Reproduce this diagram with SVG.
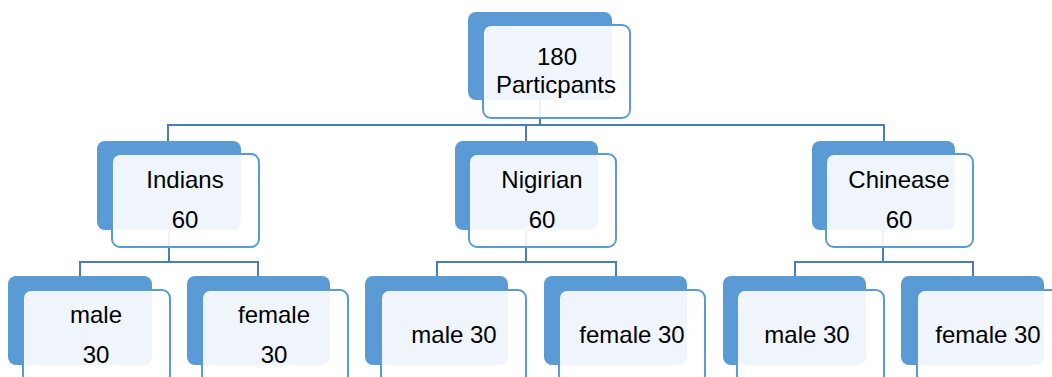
<svg xmlns="http://www.w3.org/2000/svg" width="1052" height="377" viewBox="0 0 1052 377">
<style>
.back{fill:#5B9BD5;}
.front{fill:#FFFFFF;fill-opacity:0.9;stroke:#5B9BD5;stroke-width:2;}
.conn{stroke:#4A7EBB;stroke-width:2;fill:none;}
text{font-family:"Liberation Sans",Arial,sans-serif;font-size:24px;fill:#000;text-anchor:middle;}
</style>
<rect width="1052" height="377" fill="#FFFFFF"/>
<g id="connectors">
<path class="conn" d="M540,60V125M168,125H884M168,124V141M526,124V141M884,124V141"/>
<path class="conn" d="M169,190V262M526,190V262M883,190V262"/>
<path class="conn" d="M79,262H259M80,261V276M258,261V276"/>
<path class="conn" d="M436,262H617M437,261V276M616,261V276"/>
<path class="conn" d="M794,262H974M795,261V276M973,261V276"/>
</g>
<g id="n0">
<rect class="back" x="468" y="12" width="144" height="88" rx="8"/>
<rect class="front" x="483" y="25" width="147" height="93" rx="8"/>
<text x="557" y="65">180</text>
<text x="556" y="93">Particpants</text>
</g>
<g id="n1">
<rect class="back" x="97" y="141" width="144" height="89" rx="8"/>
<rect class="front" x="112" y="154" width="147" height="93" rx="8"/>
<text x="185" y="188">Indians</text>
<text x="185" y="228">60</text>
</g>
<g id="n2">
<rect class="back" x="455" y="141" width="143" height="89" rx="8"/>
<rect class="front" x="469" y="154" width="147" height="93" rx="8"/>
<text x="542" y="188">Nigirian</text>
<text x="542" y="228">60</text>
</g>
<g id="n3">
<rect class="back" x="812" y="141" width="143" height="89" rx="8"/>
<rect class="front" x="826" y="154" width="147" height="93" rx="8"/>
<text x="899" y="188">Chinease</text>
<text x="899" y="228">60</text>
</g>
<g id="n4">
<rect class="back" x="8" y="276" width="144" height="89" rx="8"/>
<rect class="front" x="23" y="290" width="147" height="93" rx="8"/>
<text x="96" y="323">male</text>
<text x="96" y="363">30</text>
</g>
<g id="n5">
<rect class="back" x="187" y="276" width="143" height="89" rx="8"/>
<rect class="front" x="202" y="290" width="146" height="93" rx="8"/>
<text x="274" y="323">female</text>
<text x="274" y="363">30</text>
</g>
<g id="n6">
<rect class="back" x="365" y="276" width="143" height="89" rx="8"/>
<rect class="front" x="381" y="290" width="145" height="93" rx="8"/>
<text x="454" y="343">male 30</text>
</g>
<g id="n7">
<rect class="back" x="544" y="276" width="143" height="89" rx="8"/>
<rect class="front" x="559" y="290" width="146" height="93" rx="8"/>
<text x="632" y="343">female 30</text>
</g>
<g id="n8">
<rect class="back" x="723" y="276" width="143" height="89" rx="8"/>
<rect class="front" x="737" y="290" width="147" height="93" rx="8"/>
<text x="807" y="343">male 30</text>
</g>
<g id="n9">
<rect class="back" x="901" y="276" width="143" height="89" rx="8"/>
<rect class="front" x="917" y="290" width="147" height="93" rx="8"/>
<text x="988" y="343">female 30</text>
</g>
</svg>
